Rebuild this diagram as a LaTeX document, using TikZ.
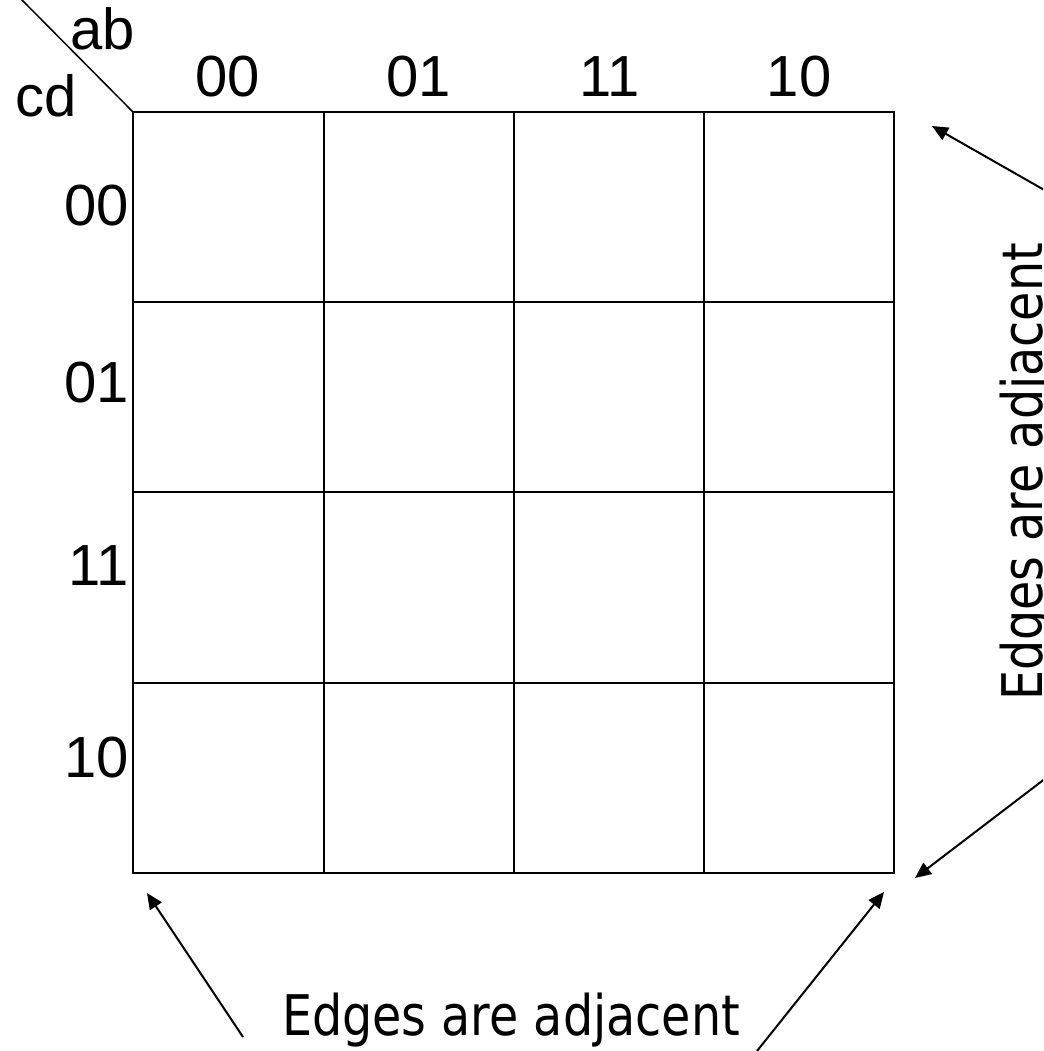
\documentclass[tikz,border=0pt]{standalone}
\usepackage{fontspec}
\setmainfont{Liberation Sans}
\newfontfamily\verd[FakeStretch=0.85]{DejaVu Sans}
\usetikzlibrary{arrows.meta}
\begin{document}
\begin{tikzpicture}[x=1pt,y=-1pt,
  lbl/.style={font=\fontsize{58}{62}\selectfont, inner sep=0pt, anchor=base},
  note/.style={font=\verd\fontsize{56}{62}\selectfont, inner sep=0pt, anchor=base},
  gridline/.style={line width=1.8pt},
  arr/.style={line width=2pt, -{Triangle[length=16pt,width=14pt]}}]
\useasboundingbox (0,0) rectangle (1043,1051);
\clip (0,0) rectangle (1043,1051);
\fill[white] (0,0) rectangle (1043,1051);
% grid
\coordinate (tl) at (133,112);
\coordinate (br) at (894,873);
\draw[gridline] (tl) rectangle (br);
\foreach \x in {324,514,704} \draw[gridline] (\x,112) -- (\x,873);
\foreach \y in {302,492,683} \draw[gridline] (133,\y) -- (894,\y);
% corner diagonal
\coordinate (diagstart) at (20,-2);
\draw[line width=1.5pt] (diagstart) -- (tl);
\node[lbl] (ab) at (103,50) {ab};
\node[lbl] (cd) at (46,117) {cd};
% column labels
\node[lbl] (c00) at (228,97) {00};
\node[lbl] (c01) at (419,97) {01};
\node[lbl] (c11) at (610,97) {11};
\node[lbl] (c10) at (799,97) {10};
% row labels
\node[lbl,anchor=base east] (r00) at (129,225) {00};
\node[lbl,anchor=base east] (r01) at (129,402) {01};
\node[lbl,anchor=base east] (r11) at (129,585) {11};
\node[lbl,anchor=base east] (r10) at (129,777) {10};
% notes
\node[note, rotate=90] (right) at (1042,472) {Edges are adjacent};
\node[note] (bottom) at (511,1035) {Edges are adjacent};
% arrows
\coordinate (s1) at (1046,191);
\coordinate (t1) at (932,126);
\coordinate (s2) at (1046,778);
\coordinate (t2) at (915,878);
\coordinate (s3) at (243,1037);
\coordinate (t3) at (147,893);
\coordinate (s4) at (757,1051);
\coordinate (t4) at (884,892);
\draw[arr] (s1) -- (t1);
\draw[arr] (s2) -- (t2);
\draw[arr] (s3) -- (t3);
\draw[arr] (s4) -- (t4);
\end{tikzpicture}
\end{document}
